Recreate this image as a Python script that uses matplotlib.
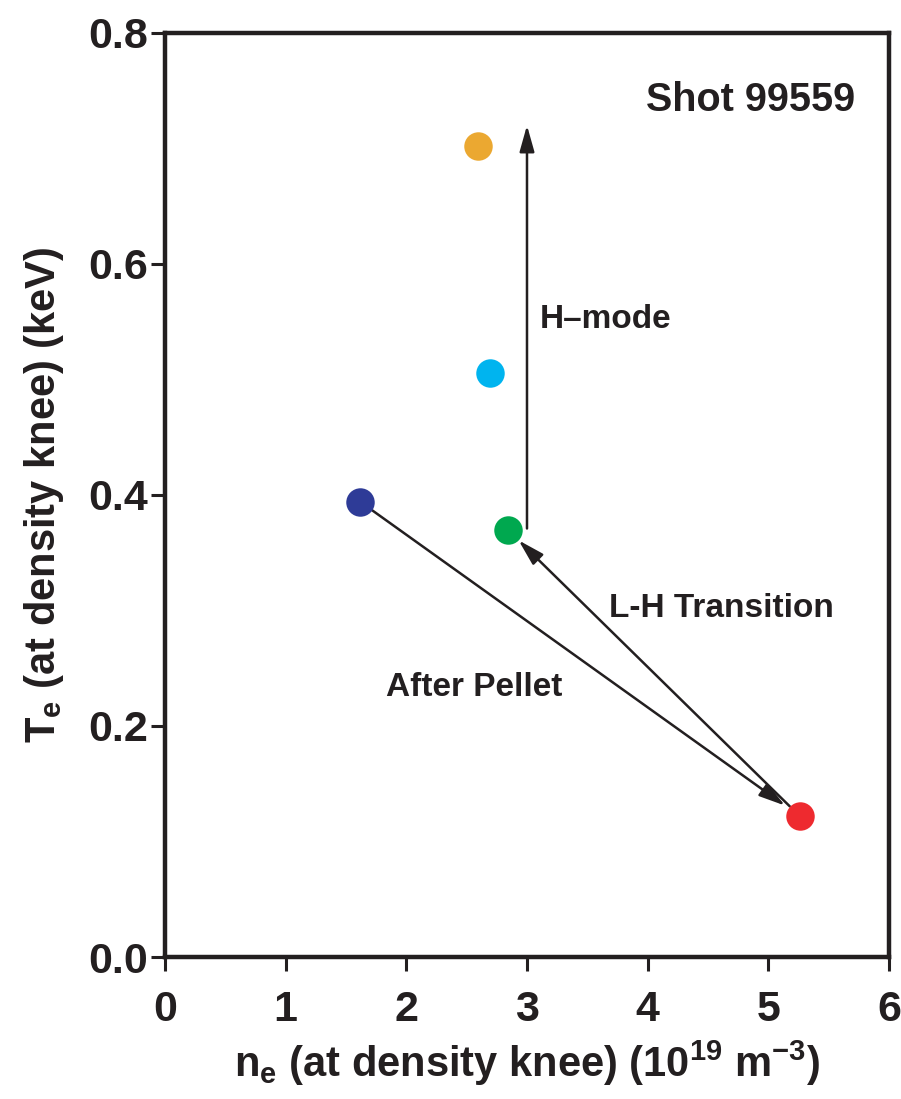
import matplotlib
matplotlib.use("Agg")
import matplotlib.pyplot as plt
from matplotlib import font_manager

names = {f.name for f in font_manager.fontManager.ttflist}
fam = "Liberation Sans Narrow" if "Liberation Sans Narrow" in names else "Liberation Sans"
plt.rcParams['font.family'] = [fam, 'DejaVu Sans']
plt.rcParams['font.weight'] = 'bold'
plt.rcParams['mathtext.fontset'] = 'custom'
plt.rcParams['mathtext.rm'] = f'{fam}:bold'
plt.rcParams['mathtext.it'] = f'{fam}:bold'
plt.rcParams['mathtext.bf'] = f'{fam}:bold'

# Data
labels = ["H-mode late", "H-mode", "Before pellet", "L-H", "After pellet peak"]
ne = [2.59, 2.69, 1.62, 2.84, 5.26]
te = [0.702, 0.506, 0.394, 0.370, 0.122]
colors = ["#EBA831", "#00B4EF", "#2E3B97", "#00A84F", "#EE2A2F"]
xticks = [0, 1, 2, 3, 4, 5, 6]
yticks = [0.0, 0.2, 0.4, 0.6, 0.8]
hmode_arrow_x = 3.0
hmode_arrow_y = [0.371, 0.720]

fig = plt.figure(figsize=(9.01, 10.99), dpi=100)
ax = fig.add_axes([0.1831, 0.1292, 0.8036, 0.8408])

for x, y, c in zip(ne, te, colors):
    ax.plot(x, y, 'o', ms=20.5, color=c, mec='none', zorder=3)

ink = '#231F20'
astyle = '-|>,head_length=1.6,head_width=0.45'
ax.annotate("", xy=(ne[4], te[4]), xytext=(ne[2], te[2]),
            arrowprops=dict(arrowstyle=astyle, lw=1.8, color=ink,
                            shrinkA=10, shrinkB=13), zorder=2)
ax.annotate("", xy=(ne[3], te[3]), xytext=(ne[4], te[4]),
            arrowprops=dict(arrowstyle=astyle, lw=1.8, color=ink,
                            shrinkA=10, shrinkB=11), zorder=2)
ax.annotate("", xy=(hmode_arrow_x, hmode_arrow_y[1]), xytext=(hmode_arrow_x, hmode_arrow_y[0]),
            arrowprops=dict(arrowstyle=astyle, lw=1.8, color=ink,
                            shrinkA=0, shrinkB=0), zorder=2)

ax.text(0.953, 0.928, "Shot 99559", transform=ax.transAxes, ha='right', va='center',
        fontsize=28.5, fontweight='bold', color=ink)
ax.text(3.107, 0.5515, "H–mode", ha='left', va='center', fontsize=24, fontweight='bold', color=ink)
ax.text(4.615, 0.302, "L-H Transition", ha='center', va='center', fontsize=24, fontweight='bold', color=ink)
ax.text(2.56, 0.233, "After Pellet", ha='center', va='center', fontsize=24, fontweight='bold', color=ink)

ax.set_xlim(0, 6)
ax.set_ylim(0, 0.8)
ax.set_xticks(xticks)
ax.set_yticks(yticks)
ax.set_xticklabels([str(t) for t in xticks])
ax.set_yticklabels([f"{t:.1f}" for t in yticks])
ax.tick_params(direction='out', length=10, width=2.2, labelsize=31, colors=ink)
ax.tick_params(axis='x', pad=14)
ax.tick_params(axis='y', pad=2)
for lab in ax.get_xticklabels() + ax.get_yticklabels():
    lab.set_fontweight('bold')
for s in ax.spines.values():
    s.set_linewidth(3.2)
    s.set_color(ink)

ax.set_xlabel(r"n$_\mathrm{e}$ (at density knee) (10$^{\mathrm{19}}$ m$^{\mathrm{-3}}$)",
              fontsize=30, fontweight='bold', color=ink, labelpad=6)
ax.set_ylabel(r"T$_\mathrm{e}$ (at density knee) (keV)", fontsize=30, fontweight='bold',
              color=ink, labelpad=16)

fig.savefig("out.png", dpi=100)
